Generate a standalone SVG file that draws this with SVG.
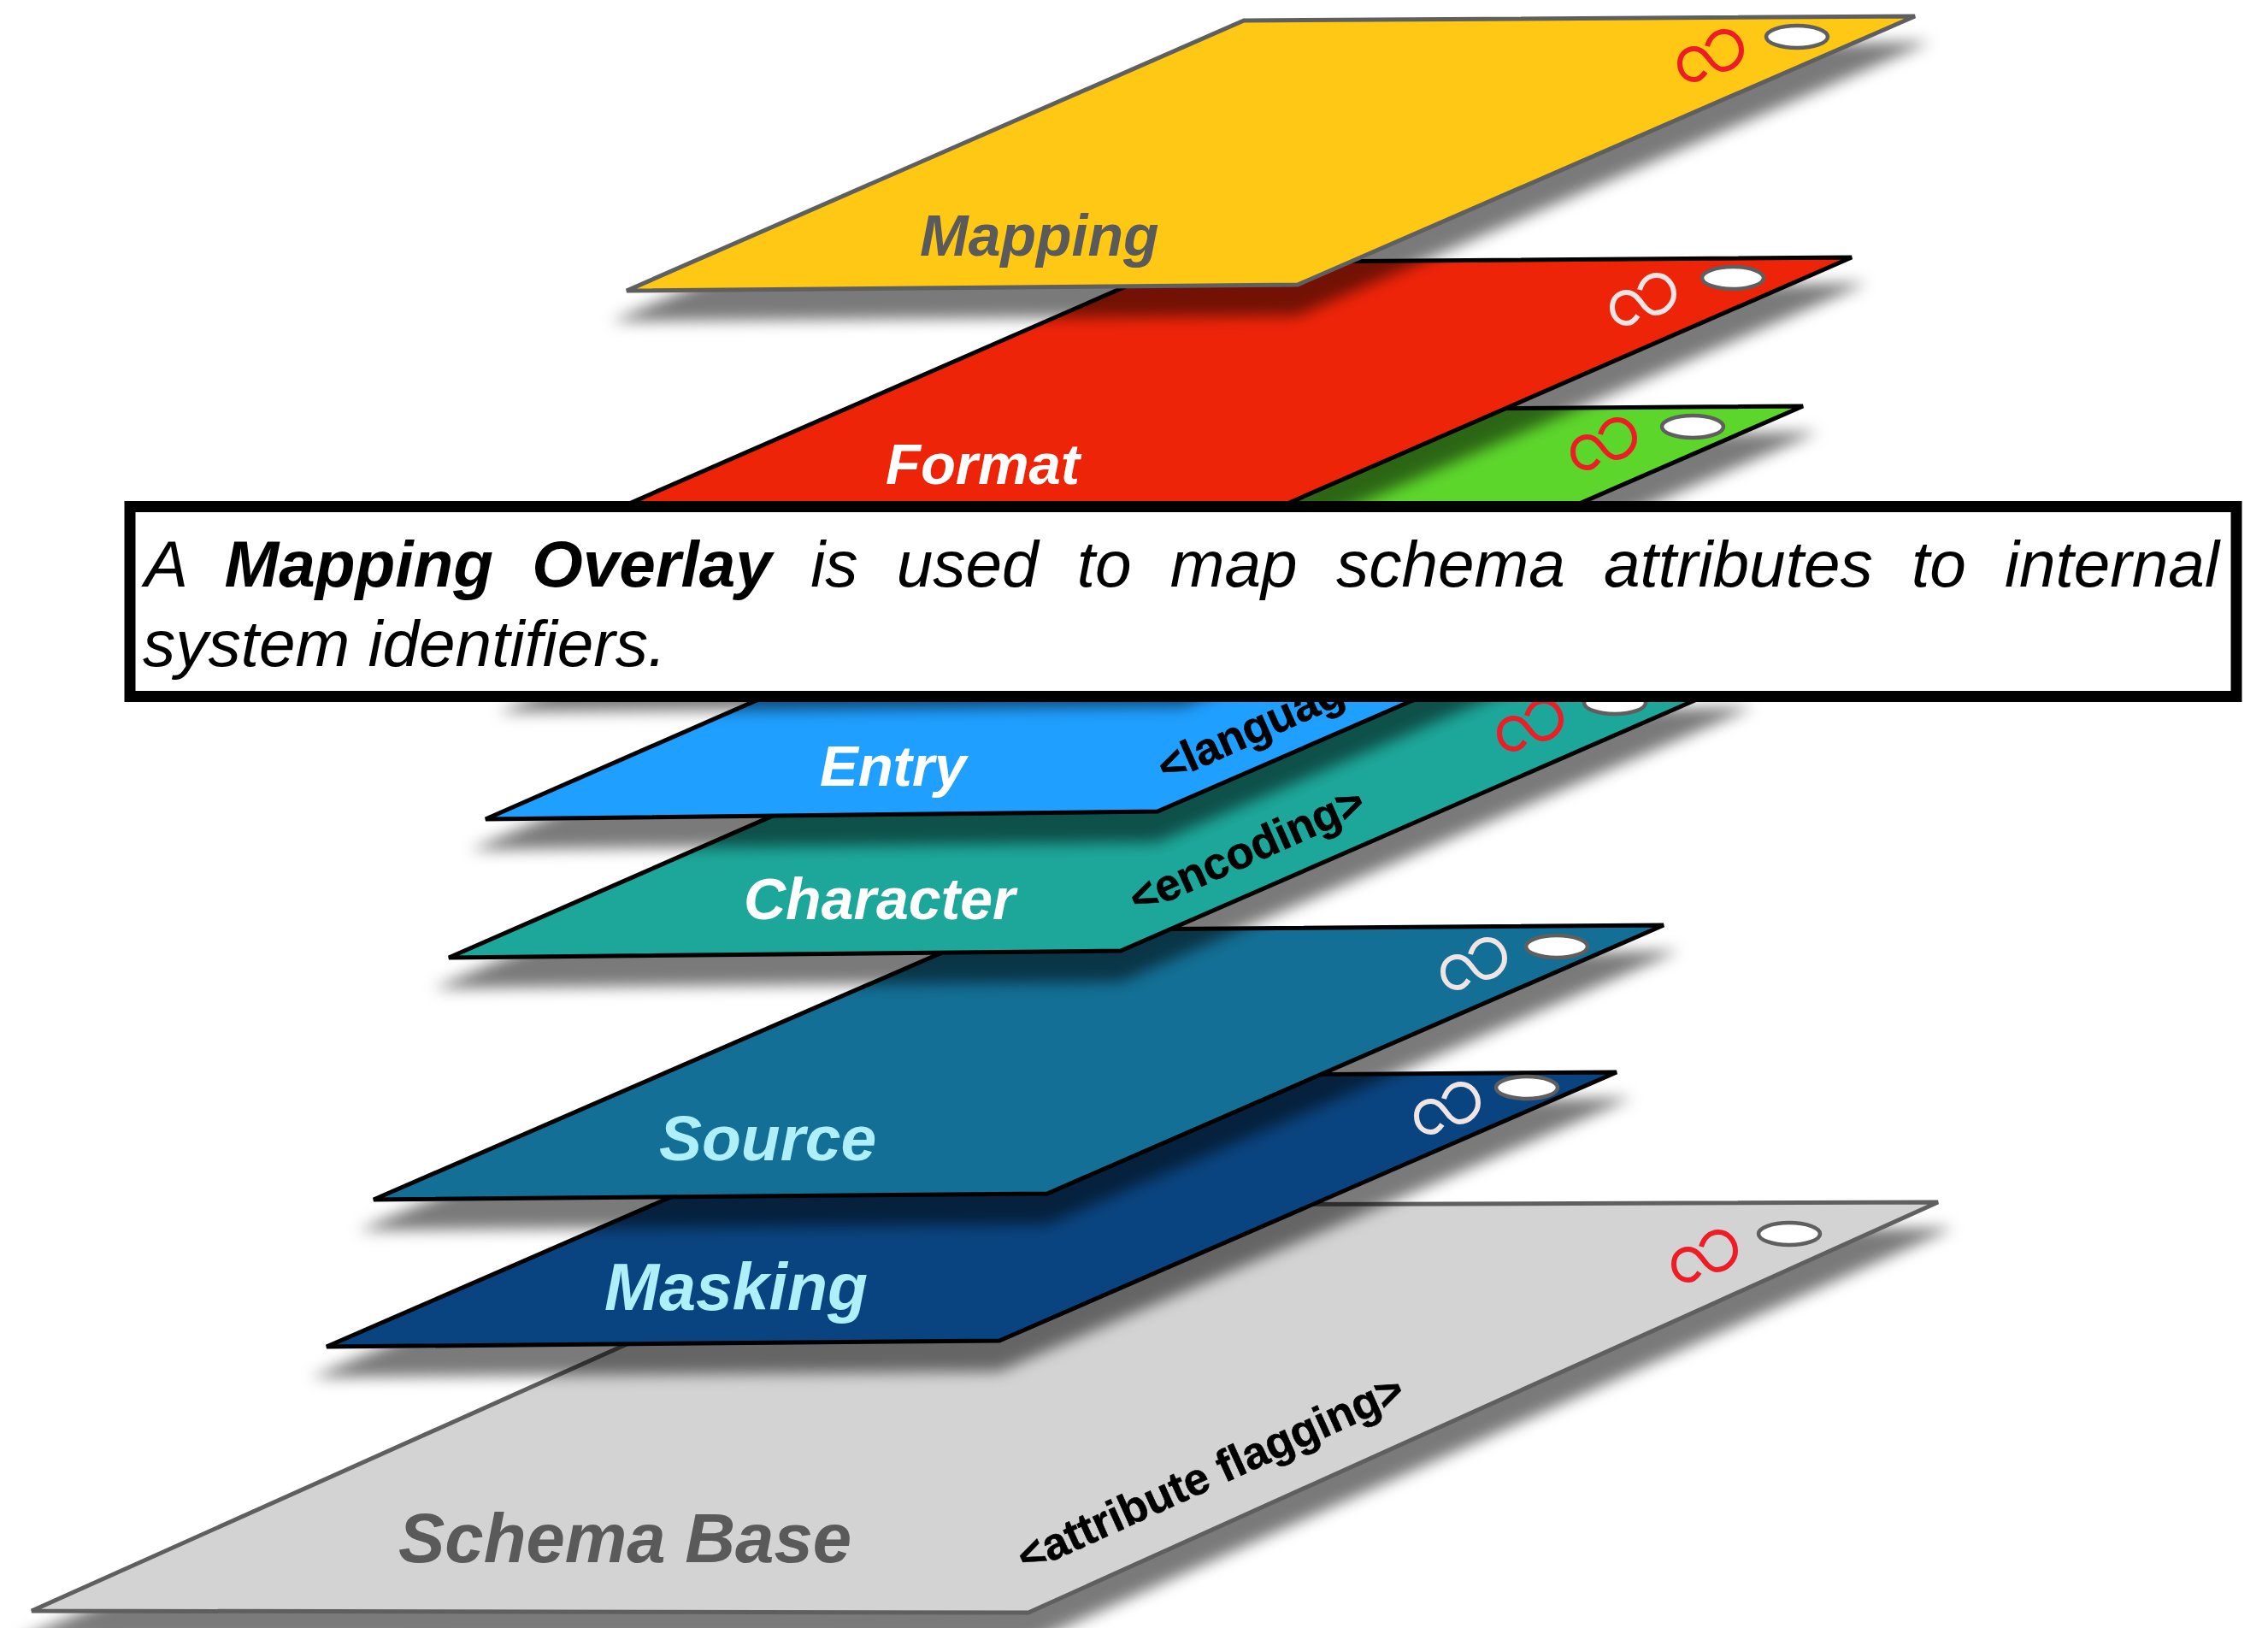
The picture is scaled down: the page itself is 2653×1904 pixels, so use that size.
<svg xmlns="http://www.w3.org/2000/svg" xmlns:xlink="http://www.w3.org/1999/xlink" width="2653" height="1904" viewBox="0 0 2653 1904">
<style>
text{font-family:"Liberation Sans",Arial,sans-serif}
.plane{stroke:#000;stroke-width:5}
.grey{stroke:#5f5f5f}
.shadow{fill:#000;fill-opacity:.52;filter:url(#blur)}
.hole{fill:#fff;stroke:#5f5f5f;stroke-width:4.5}
.inf{fill:none;stroke-width:6}
.red{stroke:#ee1c25}
.pale{stroke:#f0e4e4}
.lab{font-weight:bold;font-style:italic}
.tag{font-weight:bold;font-size:52.500px;fill:#000;stroke:#000;stroke-width:.6}
.cap{font-style:italic;font-size:76.500px;fill:#000}
</style>
<defs>
<filter id="blur" x="-5%" y="-25%" width="110%" height="150%"><feGaussianBlur stdDeviation="8.500"/></filter>
<path id="infinity" d="M-5 19C-9 25-14 28-18 28C-28 28-35 20-35 9C-35-1-28-8-18-8C-8-8-3 2 4 10C8 14 11 16 15 16C27 16 37 5 37-6C37-18 28-28 17-28C7-28 0-21-3-11"/>
</defs>
<rect width="2653" height="1904" fill="#fff"/>

<g id="schema-base">
<polygon class="shadow" points="19,1919 1203,1922 2285,1436 1095,1446"/>
<polygon class="plane grey" fill="#d3d3d3" points="37,1884 1203,1886 2267,1406 1095,1410"/>
<use href="#infinity" class="inf red" x="1993" y="1469"/>
<ellipse class="hole" cx="2093" cy="1443" rx="36" ry="13"/>
<text class="lab" x="466" y="1827" font-size="81.500" fill="#5a5a5a">Schema Base</text>
<text class="tag" transform="translate(1200 1840) rotate(-24.4)">&lt;attribute flagging&gt;</text>
</g>

<g id="masking">
<polygon class="shadow" points="364,1611 1169,1604 1909,1284 1107,1296"/>
<polygon class="plane" fill="#0a4480" points="382,1575 1169,1568 1891,1254 1107,1260"/>
<use href="#infinity" class="inf pale" x="1692" y="1296"/>
<ellipse class="hole" cx="1786" cy="1272" rx="36" ry="13"/>
<text class="lab" x="707" y="1532" font-size="77" fill="#aeeffa">Masking</text>
</g>

<g id="source">
<polygon class="shadow" points="419,1439 1225,1432 1964,1112 1162,1124"/>
<polygon class="plane" fill="#136f95" points="437,1403 1225,1396 1946,1082 1162,1088"/>
<use href="#infinity" class="inf pale" x="1723" y="1127"/>
<ellipse class="hole" cx="1821" cy="1107" rx="36" ry="13"/>
<text class="lab" x="771" y="1357" font-size="75" fill="#aeeffa">Source</text>
</g>

<g id="character">
<polygon class="shadow" points="507,1156 1311,1148 2051,827 1247,840"/>
<polygon class="plane" fill="#1da79a" points="525,1120 1311,1112 2033,797 1247,804"/>
<use href="#infinity" class="inf red" x="1789" y="848"/>
<ellipse class="hole" cx="1889" cy="822" rx="36" ry="13"/>
<text class="lab" x="870" y="1075" font-size="68" fill="#fff">Character</text>
<text class="tag" transform="translate(1331 1070) rotate(-24)">&lt;encoding&gt;</text>
</g>

<g id="entry">
<polygon class="shadow" points="550,994 1354,985 2094,665 1291,677"/>
<polygon class="plane" fill="#1f9fff" points="568,958 1354,949 2076,635 1291,641"/>
<text class="lab" x="959" y="919" font-size="67" fill="#fff">Entry</text>
<text class="tag" transform="translate(1364 916) rotate(-24)">&lt;languag</text>
</g>

<g id="green-layer">
<polygon class="shadow" points="582,833 1386,826 2127,505 1323,517"/>
<polygon class="plane" fill="#5dd62c" points="600,797 1386,790 2109,475 1323,481"/>
<use href="#infinity" class="inf red" x="1875" y="519"/>
<ellipse class="hole" cx="1980" cy="499" rx="36" ry="13"/>
</g>

<g id="format">
<polygon class="shadow" points="640,659 1444,652 2184,331 1381,343"/>
<polygon class="plane" fill="#ee2409" points="658,623 1444,616 2166,301 1381,307"/>
<use href="#infinity" class="inf pale" x="1921" y="350"/>
<ellipse class="hole" cx="2027" cy="325" rx="36" ry="13"/>
<text class="lab" x="1036" y="566" font-size="67" fill="#fff">Format</text>
</g>

<g id="mapping">
<polygon class="shadow" points="715,376 1518,369 2258,49 1455,60"/>
<polygon class="plane grey" fill="#ffc815" points="733,340 1518,333 2240,19 1455,24"/>
<use href="#infinity" class="inf red" x="2000" y="65"/>
<ellipse class="hole" cx="2102" cy="43" rx="36" ry="13"/>
<text class="lab" x="1076" y="299" font-size="68" fill="#5a5a5a">Mapping</text>
</g>

<g id="caption">
<rect x="152" y="592.500" width="2464" height="222" fill="#fff" stroke="#000" stroke-width="13"/>
<text class="cap" x="169" y="686" word-spacing="24">A <tspan font-weight="bold">Mapping Overlay</tspan> is used to map schema attributes to internal</text>
<text class="cap" x="167" y="779">system identifiers.</text>
</g>
</svg>
